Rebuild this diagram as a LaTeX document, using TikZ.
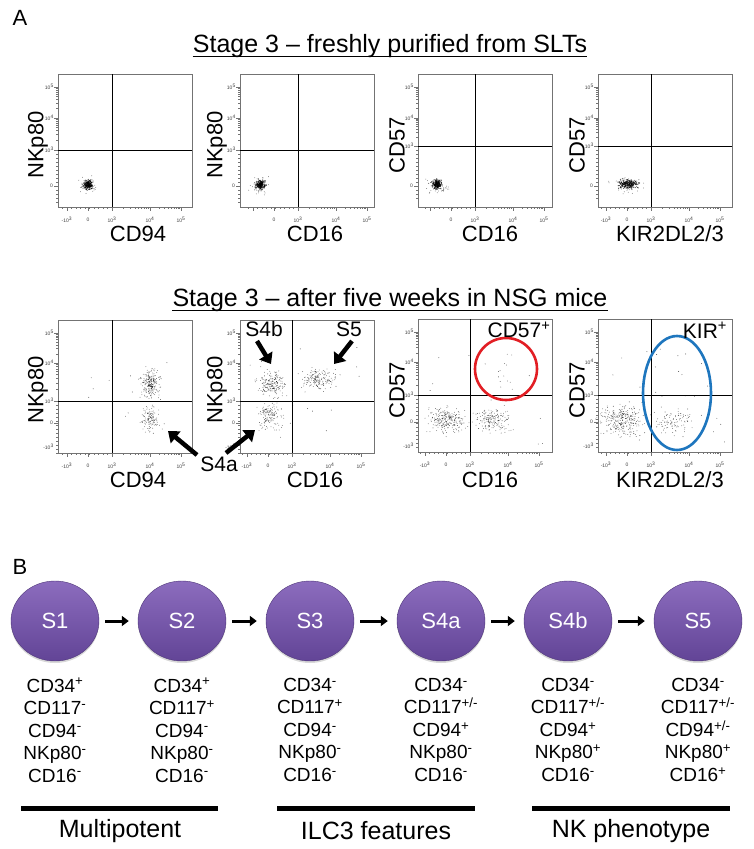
\documentclass[tikz,border=0pt]{standalone}
\usepackage{fontspec}
\setmainfont{Liberation Sans}
\usetikzlibrary{arrows.meta,shapes.geometric,shadows,calc}
\definecolor{cellTop}{RGB}{140,108,190}
\definecolor{cellBot}{RGB}{98,68,150}
\definecolor{gateRed}{RGB}{226,30,36}
\definecolor{gateBlue}{RGB}{30,118,190}
\newcommand\spp{\textsuperscript{+}}
\newcommand\smm{\textsuperscript{-}}
\newcommand\spm{\textsuperscript{+/-}}
\tikzset{
  frame/.style={draw=black!55, line width=0.6pt},
  divider/.style={draw=black, line width=0.9pt},
  ticklab/.style={font=\fontsize{5}{5}\selectfont, inner sep=0pt, text=black!75},
  axlab/.style={font=\fontsize{22}{22}\selectfont, inner sep=0pt},
  dotc/.style={fill=black, fill opacity=0.7},
  fatarrow/.style={line width=4.5pt, -{Triangle[length=10pt,width=15pt]}},
  smallarrow/.style={line width=3pt, -{Triangle[length=7pt,width=10pt]}},
  stagecell/.style={ellipse, minimum width=88pt, minimum height=80pt, inner sep=0pt,
    top color=cellTop, bottom color=cellBot, draw=cellBot!80!black, line width=0.4pt, text=white,
    font=\fontsize{22}{22}\selectfont,
    drop shadow={opacity=0.3, shadow xshift=0pt, shadow yshift=-2pt}},
  pheno/.style={align=center, font=\fontsize{19}{22.5}\selectfont, inner sep=0pt, anchor=north},
  groupbar/.style={line width=5pt},
  grouplab/.style={font=\fontsize{25}{25}\selectfont, inner sep=0pt},
  panellab/.style={font=\fontsize{22}{22}\selectfont, inner sep=0pt},
  titlelab/.style={font=\fontsize{25}{25}\selectfont, inner sep=0pt, anchor=base},
  gatelab/.style={font=\fontsize{21}{21}\selectfont, inner sep=0pt},
}
% #1 left, #2 top, #3 vline offset, #4 hline offset (10^3 level), #5 y of 10^4, #6 y of 10^5, #7 y of 0, #8 show -10^3 on y, #9 show -10^3 on x
\newcommand\facsplot[9]{%
  \draw[frame] (#1,#2) rectangle ({#1+134},{#2+133});
  % x ticks
  \foreach \t in {4.5,9,...,49.5}{\draw[frame] ({#1+#3-54+\t},{#2+133}) -- ++(0,2.2);}
  \foreach \k in {2,...,9}{%
    \draw[frame] ({#1+#3+38*log10(\k)},{#2+133}) -- ++(0,2.2);
    \draw[frame] ({#1+#3+38+31*log10(\k)},{#2+133}) -- ++(0,2.2);}
  \foreach \t in {-45,-24,0,38,69}{\draw[frame] ({#1+#3+\t},{#2+133}) -- ++(0,4);}
  % y ticks
  \foreach \k in {2,...,9}{%
    \draw[frame] (#1,{#2+#4-(#4-#5)*log10(\k)}) -- ++(-2.2,0);
    \draw[frame] (#1,{#2+#5-(#5-#6)*log10(\k)}) -- ++(-2.2,0);}
  \foreach \t in {4,8,...,52}{\draw[frame] (#1,{#2+#4+\t}) -- ++(-2.2,0);}
  \foreach \t in {#4,#5,#6,#7}{\draw[frame] (#1,{#2+\t}) -- ++(-4,0);}
  % tick labels
  \node[ticklab, anchor=east] (ya#1) at ({#1-4},{#2+#6}) {10\textsuperscript{5}};
  \node[ticklab, anchor=east] (yb#1) at ({#1-4},{#2+#5}) {10\textsuperscript{4}};
  \node[ticklab, anchor=east] (yc#1) at ({#1-4},{#2+#4}) {10\textsuperscript{3}};
  \node[ticklab, anchor=east] (yd#1) at ({#1-5},{#2+#7}) {0};
  \ifnum#8=1 \node[ticklab, anchor=east] (ye#1) at ({#1-4},{#2+127}) {-10\textsuperscript{3}};\fi
  \ifnum#9=1 \node[ticklab] (xa#1) at ({#1+#3-45},{#2+146}) {-10\textsuperscript{3}};\fi
  \node[ticklab] (xb#1) at ({#1+#3-24},{#2+146}) {0};
  \node[ticklab] (xc#1) at ({#1+#3},{#2+146}) {10\textsuperscript{3}};
  \node[ticklab] (xd#1) at ({#1+#3+38},{#2+146}) {10\textsuperscript{4}};
  \node[ticklab] (xe#1) at ({#1+#3+69},{#2+146}) {10\textsuperscript{5}};
  % gate lines
  \draw[divider] ({#1+#3},#2) -- ({#1+#3},{#2+133});
  \draw[divider] (#1,{#2+#4}) -- ({#1+134},{#2+#4});
}
% gaussian-ish blob: cx cy sx sy n radius
\newcommand\blob[6]{%
  \foreach \i in {1,...,#5}{%
    \pgfmathsetmacro\dx{#3*(rand+rand+rand)}%
    \pgfmathsetmacro\dy{#4*(rand+rand+rand)}%
    \fill[dotc] ({#1+\dx},{#2+\dy}) circle (#6);}}
% uniform sprinkle: x1 y1 x2 y2 n
\newcommand\sprinkle[5]{%
  \foreach \i in {1,...,#5}{%
    \pgfmathsetmacro\px{#1+(#3-#1)*rnd}%
    \pgfmathsetmacro\py{#2+(#4-#2)*rnd}%
    \fill[dotc] (\px,\py) circle (0.45);}}
\begin{document}
\begin{tikzpicture}[x=1pt,y=-1pt]
\useasboundingbox (0,0) rectangle (754,849);
\fill[white] (0,0) rectangle (754,849);
\pgfmathsetseed{11}

% ---------------- Panel A ----------------
\node[panellab] (labA) at (20,18) {A};
\node[titlelab] (title1) at (390,52) {Stage 3 – freshly purified from SLTs};
\draw[line width=1pt] ([yshift=-4pt]title1.base west) -- ([yshift=-4pt]title1.base east);

% top row plots
\facsplot{58}{74}{54}{76}{44}{13}{112}{0}{1}
\facsplot{240}{74}{58}{76}{44}{13}{112}{0}{0}
\facsplot{418}{74}{57}{72}{44}{13}{112}{0}{0}
\facsplot{598}{74}{53}{72}{44}{13}{112}{0}{1}

\blob{88}{185}{2.2}{2.2}{260}{0.5}
\blob{88}{185}{4}{4}{40}{0.4}
\blob{260}{185}{2.4}{2.2}{260}{0.5}
\blob{260}{185}{4.5}{4}{40}{0.4}
\blob{437}{184}{2.4}{2.2}{260}{0.5}
\blob{437}{186}{5}{4.5}{40}{0.4}
\blob{628}{184}{4.5}{2.2}{300}{0.5}
\blob{628}{185}{8}{4}{50}{0.4}

\node[axlab] (xl1) at (138,234) {CD94};
\node[axlab] (xl2) at (315,234) {CD16};
\node[axlab] (xl3) at (490,234) {CD16};
\node[axlab] (xl4) at (670,234) {KIR2DL2/3};
\node[axlab, rotate=90] (yl1) at (38,145) {NKp80};
\node[axlab, rotate=90] (yl2) at (217,145) {NKp80};
\node[axlab, rotate=90] (yl3) at (397,145) {CD57};
\node[axlab, rotate=90] (yl4) at (577,145) {CD57};

% bottom row
\node[titlelab] (title2) at (390,306) {Stage 3 – after five weeks in NSG mice};
\draw[line width=1pt] ([yshift=-4pt]title2.base west) -- ([yshift=-4pt]title2.base east);

\facsplot{58}{320}{54}{81}{43}{13}{103}{1}{1}
\facsplot{240}{320}{52}{81}{43}{13}{103}{1}{1}
\facsplot{418}{319}{52}{76}{43}{13}{103}{1}{1}
\facsplot{598}{319}{53}{76}{43}{13}{103}{1}{1}

% plot 5 data
\blob{150}{383}{4.5}{7}{220}{0.4}
\blob{150}{418}{4.5}{7}{120}{0.4}
\sprinkle{80}{360}{185}{445}{14}
% plot 6 data
\blob{271}{383}{7}{6.5}{190}{0.4}
\blob{318}{380}{7.5}{5}{170}{0.4}
\blob{269}{415}{6}{6.5}{140}{0.4}
\sprinkle{250}{345}{360}{445}{20}
% plot 7 data
\blob{447}{420}{9}{6.5}{240}{0.4}
\blob{494}{420}{8}{6}{170}{0.4}
\blob{506}{368}{6}{9}{12}{0.4}
\sprinkle{425}{350}{545}{445}{18}
% plot 8 data
\blob{622}{420}{10}{7}{280}{0.4}
\blob{673}{421}{9}{6}{90}{0.4}
\sprinkle{610}{345}{710}{395}{14}
\sprinkle{600}{395}{725}{445}{30}

% gates
\draw[gateRed, line width=2.6pt] (506,369) circle (31);
\draw[gateBlue, line width=2.6pt] (677,393) ellipse (34 and 57);
\node[gatelab] (g1) at (519,330) {CD57\textsuperscript{+}};
\node[gatelab] (g2) at (705,330) {KIR\textsuperscript{+}};

\node[axlab] (xl5) at (138,480) {CD94};
\node[axlab] (xl6) at (315,480) {CD16};
\node[axlab] (xl7) at (490,480) {CD16};
\node[axlab] (xl8) at (670,480) {KIR2DL2/3};
\node[axlab, rotate=90] (yl5) at (38,390) {NKp80};
\node[axlab, rotate=90] (yl6) at (217,390) {NKp80};
\node[axlab, rotate=90] (yl7) at (397,390) {CD57};
\node[axlab, rotate=90] (yl8) at (577,390) {CD57};

% population labels and arrows
\node[gatelab] (s4a) at (219,464) {S4a};
\node[gatelab] (s4b) at (264,329) {S4b};
\node[gatelab] (s5l) at (349,329) {S5};
\coordinate (t4a1) at (168,431);
\coordinate (t4a2) at (255,430);
\coordinate (t4b) at (271,364);
\coordinate (t5) at (334,364);
\draw[fatarrow] (197,455) -- (t4a1);
\draw[fatarrow] (226,453) -- (t4a2);
\draw[fatarrow] (257,341) -- (t4b);
\draw[fatarrow] (352,341) -- (t5);

% ---------------- Panel B ----------------
\node[panellab] (labB) at (20,567) {B};
\node[stagecell] (c1) at (55,621) {S1};
\node[stagecell] (c2) at (182,621) {S2};
\node[stagecell] (c3) at (310,621) {S3};
\node[stagecell] (c4) at (441,621) {S4a};
\node[stagecell] (c5) at (568,621) {S4b};
\node[stagecell] (c6) at (698,621) {S5};
\foreach \a/\b in {c1/c2,c2/c3,c3/c4,c4/c5,c5/c6}{
  \draw[smallarrow] ([xshift=6pt]\a.east) -- ([xshift=-9pt]\b.west);}

\node[pheno] (p1) at (55,678) {CD34\spp\\CD117\smm\\CD94\smm\\NKp80\smm\\CD16\smm};
\node[pheno] (p2) at (182,678) {CD34\spp\\CD117\spp\\CD94\smm\\NKp80\smm\\CD16\smm};
\node[pheno] (p3) at (310,678) {CD34\smm\\CD117\spp\\CD94\smm\\NKp80\smm\\CD16\smm};
\node[pheno] (p4) at (441,678) {CD34\smm\\CD117\spm\\CD94\spp\\NKp80\smm\\CD16\smm};
\node[pheno] (p5) at (568,678) {CD34\smm\\CD117\spm\\CD94\spp\\NKp80\spp\\CD16\smm};
\node[pheno] (p6) at (698,678) {CD34\smm\\CD117\spm\\CD94\spm\\NKp80\spp\\CD16\spp};

\draw[groupbar] (21,808) -- (218,808);
\draw[groupbar] (277,808) -- (475,808);
\draw[groupbar] (532,808) -- (730,808);
\node[grouplab] (gl1) at (120,831) {Multipotent};
\node[grouplab] (gl2) at (376,831) {ILC3 features};
\node[grouplab] (gl3) at (631,831) {NK phenotype};
\end{tikzpicture}
\end{document}
